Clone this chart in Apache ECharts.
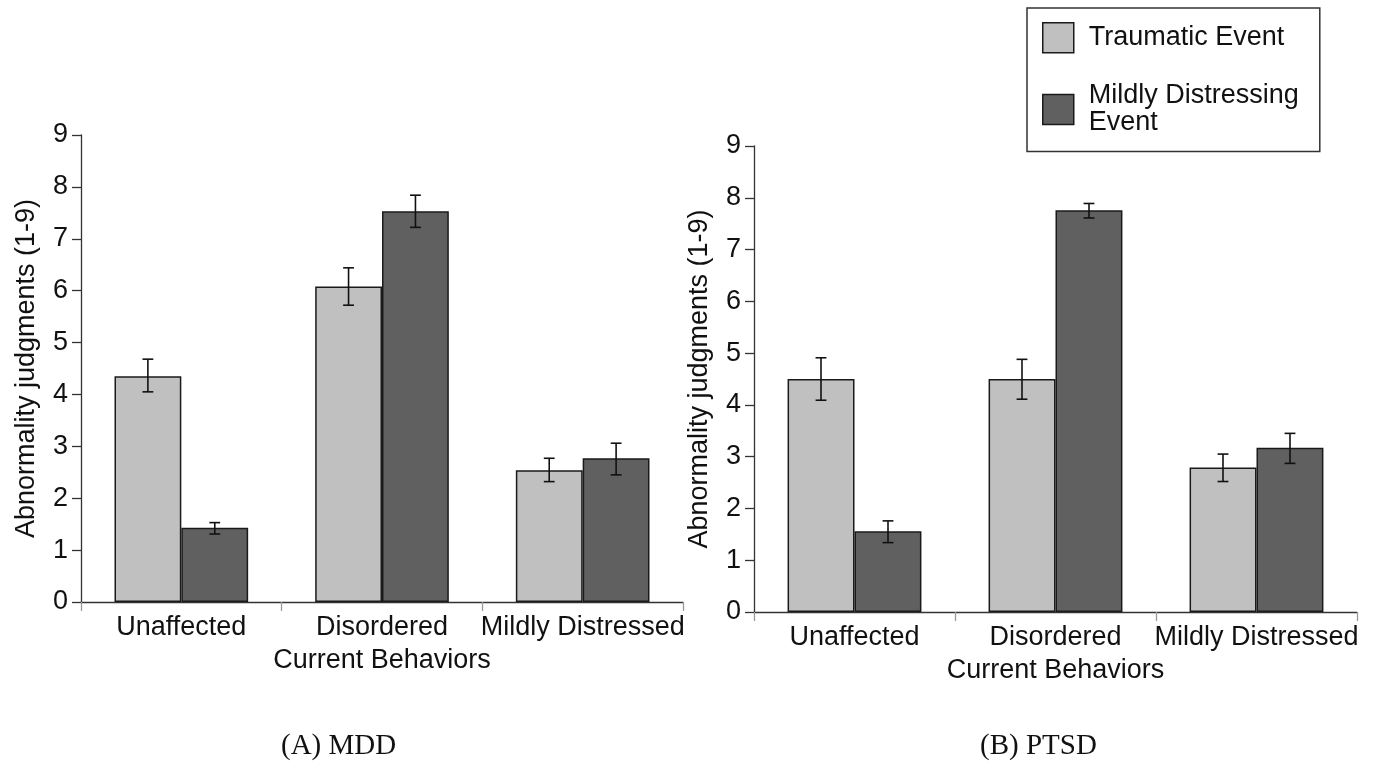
<!DOCTYPE html>
<html>
<head>
<meta charset="utf-8">
<script src="https://cdn.jsdelivr.net/npm/echarts@6/dist/echarts.min.js"></script>
<style>
html,body{margin:0;padding:0;background:#fff;}
#chart{width:1376px;height:768px;}
</style>
</head>
<body>
<div id="chart"></div>
<script>
const categories = ['Unaffected', 'Disordered', 'Mildly Distressed'];
const seriesNames = ['Traumatic Event', 'Mildly Distressing Event'];
const yTicks = [0, 9, 1];

// (A) MDD
const mddTraumatic = [4.35, 6.08, 2.54];
const mddTraumaticErr = [[4.05, 4.68], [5.72, 6.44], [2.32, 2.77]];
const mddMild = [1.43, 7.53, 2.77];
const mddMildErr = [[1.31, 1.53], [7.22, 7.84], [2.45, 3.06]];

// (B) PTSD
const ptsdTraumatic = [4.50, 4.50, 2.79];
const ptsdTraumaticErr = [[4.09, 4.91], [4.11, 4.88], [2.52, 3.05]];
const ptsdMild = [1.56, 7.76, 3.17];
const ptsdMildErr = [[1.34, 1.76], [7.61, 7.89], [2.87, 3.45]];

const captions = ['(A) MDD', '(B) PTSD'];
const xAxisTitle = 'Current Behaviors';
const yAxisTitle = 'Abnormality judgments (1-9)';

const SANS = '"Liberation Sans", Arial, Helvetica, sans-serif';
const SERIF = '"Liberation Serif", "Times New Roman", serif';
const colors = ['#c0c0c0', '#606060'];
const FS = 27;

function errSeries(err, gridIdx, side) {
  return {
    type: 'custom',
    xAxisIndex: gridIdx, yAxisIndex: gridIdx,
    z: 5,
    silent: true,
    data: err.map((e, i) => [i, e[0], e[1]]),
    renderItem: function (params, api) {
      const ci = api.value(0);
      const lo = api.coord([ci, api.value(1)]);
      const hi = api.coord([ci, api.value(2)]);
      const bw = api.size([1, 0])[0];
      const x = lo[0] + side * bw / 6;
      const cap = bw * 0.027;
      const st = { stroke: '#111', lineWidth: 1.6 };
      return {
        type: 'group',
        children: [
          { type: 'line', shape: { x1: x, y1: lo[1], x2: x, y2: hi[1] }, style: st },
          { type: 'line', shape: { x1: x - cap, y1: lo[1], x2: x + cap, y2: lo[1] }, style: st },
          { type: 'line', shape: { x1: x - cap, y1: hi[1], x2: x + cap, y2: hi[1] }, style: st }
        ]
      };
    }
  };
}

function barSeries(name, data, gridIdx, colorIdx) {
  return {
    name: name,
    type: 'bar',
    xAxisIndex: gridIdx, yAxisIndex: gridIdx,
    data: data,
    barGap: '0%',
    barCategoryGap: '33.4%',
    itemStyle: { color: colors[colorIdx], borderColor: '#1a1a1a', borderWidth: 1.5 },
    emphasis: { disabled: true }
  };
}

function xAxisDef(gridIdx) {
  return {
    type: 'category', gridIndex: gridIdx, data: categories,
    boundaryGap: true,
    axisLine: { lineStyle: { color: '#333', width: 1.3 } },
    axisTick: { show: true, length: 9, alignWithLabel: false, lineStyle: { color: '#999', width: 1.3 } },
    axisLabel: { interval: 0, fontSize: FS, color: '#111', fontFamily: SANS, margin: 12 },
    name: xAxisTitle, nameLocation: 'middle', nameGap: 45,
    nameTextStyle: { fontSize: FS, color: '#111', fontFamily: SANS }
  };
}

function yAxisDef(gridIdx) {
  return {
    type: 'value', gridIndex: gridIdx, min: yTicks[0], max: yTicks[1], interval: yTicks[2],
    splitLine: { show: false },
    axisLine: { show: true, lineStyle: { color: '#333', width: 1.3 } },
    axisTick: { show: true, length: 9, inside: false, lineStyle: { color: '#333', width: 1.3 } },
    axisLabel: { fontSize: FS, color: '#111', fontFamily: SANS, margin: 13 },
    name: yAxisTitle, nameLocation: 'middle', nameRotate: 90, nameGap: 41,
    nameTextStyle: { fontSize: FS, color: '#111', fontFamily: SANS }
  };
}

const chart = echarts.init(document.getElementById('chart'), null, { renderer: 'canvas' });
chart.setOption({
  backgroundColor: '#fff',
  animation: false,
  title: [
    { text: captions[0], left: 276, top: 727, textStyle: { fontFamily: SERIF, fontSize: 29, fontWeight: 'normal', color: '#111' } },
    { text: captions[1], left: 975, top: 727, textStyle: { fontFamily: SERIF, fontSize: 29, fontWeight: 'normal', color: '#111' } }
  ],
  legend: {
    orient: 'vertical',
    left: 1027, top: 8,
    padding: [14, 21, 5, 15],
    itemWidth: 31, itemHeight: 30,
    itemGap: 19,
    borderColor: '#333', borderWidth: 1.5,
    selectedMode: false,
    icon: 'rect',
    itemStyle: { borderColor: '#1a1a1a', borderWidth: 1.5 },
    textStyle: { fontSize: FS, color: '#111', fontFamily: SANS, lineHeight: 27, padding: [0, 0, 0, 10] },
    formatter: function (n) { return n === seriesNames[1] ? 'Mildly Distressing\nEvent' : n; },
    data: [
      { name: seriesNames[0] },
      { name: seriesNames[1], textStyle: { padding: [20, 0, 0, 10] } }
    ]
  },
  grid: [
    { left: 81, right: 693, top: 135, bottom: 166 },
    { left: 754, right: 19, top: 146, bottom: 156 }
  ],
  xAxis: [xAxisDef(0), xAxisDef(1)],
  yAxis: [yAxisDef(0), yAxisDef(1)],
  series: [
    barSeries(seriesNames[0], mddTraumatic, 0, 0),
    barSeries(seriesNames[1], mddMild, 0, 1),
    errSeries(mddTraumaticErr, 0, -1),
    errSeries(mddMildErr, 0, 1),
    barSeries(seriesNames[0], ptsdTraumatic, 1, 0),
    barSeries(seriesNames[1], ptsdMild, 1, 1),
    errSeries(ptsdTraumaticErr, 1, -1),
    errSeries(ptsdMildErr, 1, 1)
  ]
});
</script>
</body>
</html>
